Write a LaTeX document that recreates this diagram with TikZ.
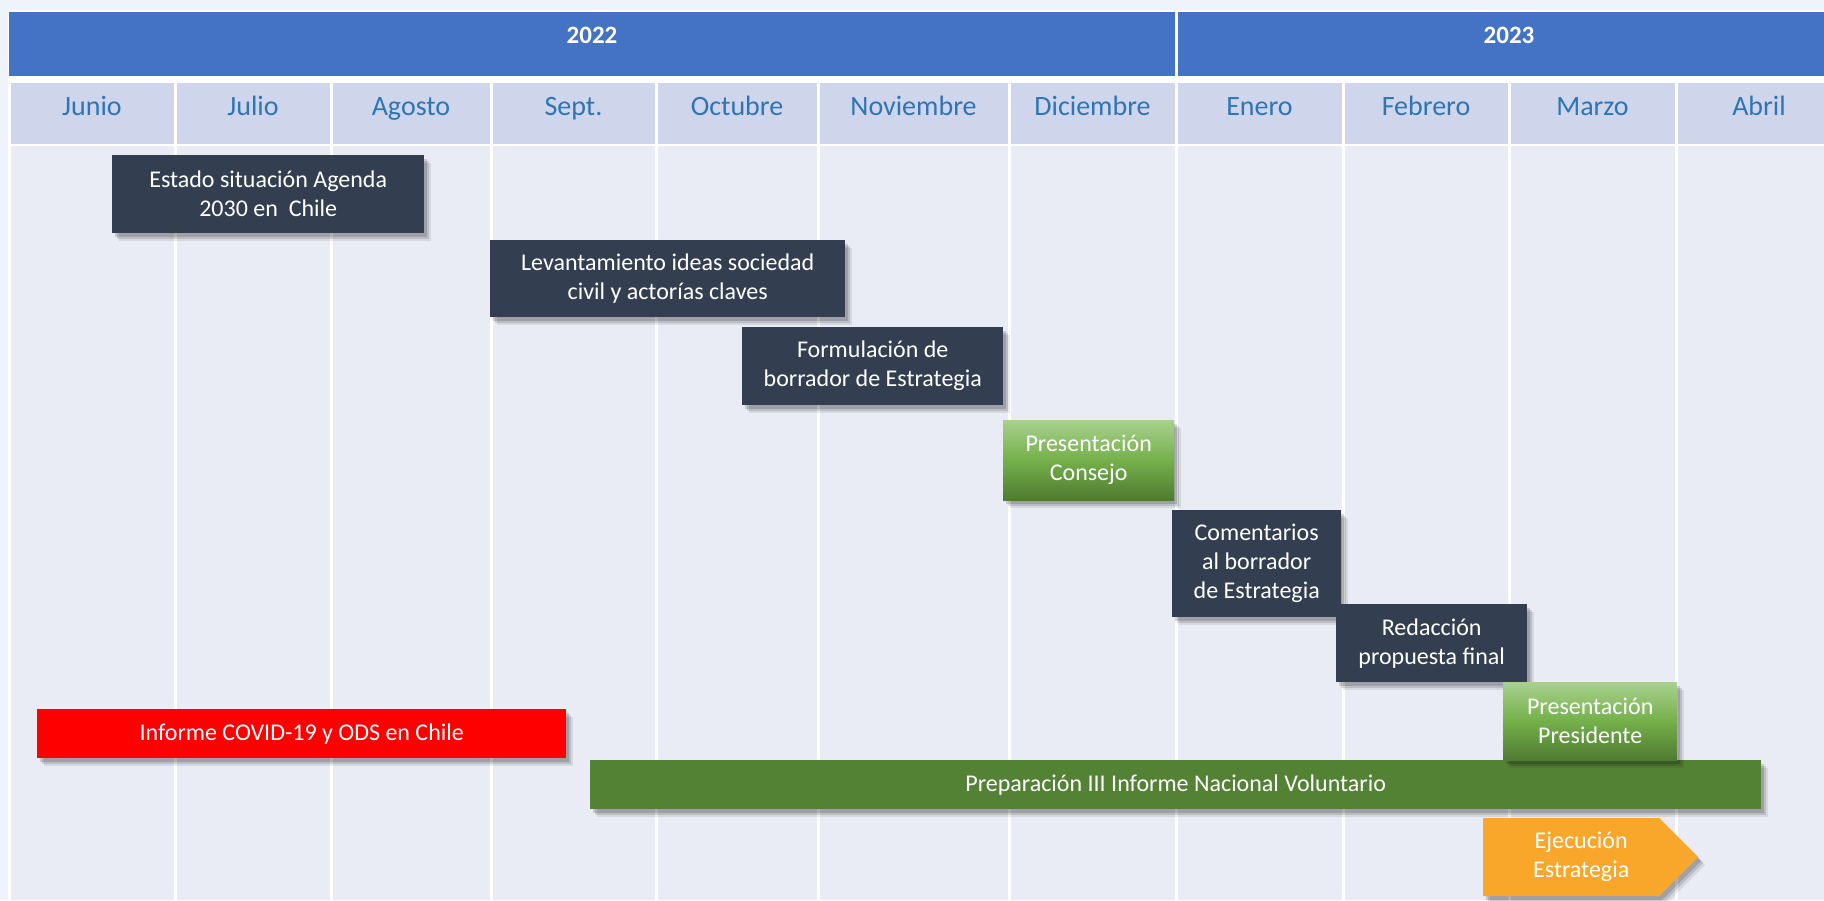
\documentclass[tikz,border=0pt]{standalone}
\usepackage{fontspec}
\setmainfont{Carlito}
\usetikzlibrary{shadows,shapes.symbols}

\definecolor{pagebg}{HTML}{EFF3FB}
\definecolor{yearblue}{HTML}{4472C4}
\definecolor{monthfill}{HTML}{CFD5EA}
\definecolor{bodyfill}{HTML}{E9EBF5}
\definecolor{monthtext}{HTML}{2E75B6}
\definecolor{slate}{HTML}{333F50}
\definecolor{leafgreen}{HTML}{548235}
\definecolor{lightgreen}{HTML}{A9D18E}
\definecolor{midgreen}{HTML}{74B04A}
\definecolor{darkgreen}{HTML}{4F7B31}
\definecolor{orangeexec}{HTML}{F9A72B}

\begin{document}
\begin{tikzpicture}[x=1pt,y=-1pt,
    tasktext/.style={text=white,align=center,font=\fontsize{24}{29}\selectfont},
    task/.style={anchor=north west,inner sep=0pt,tasktext,
      drop shadow={shadow xshift=7pt,shadow yshift=-8pt,opacity=.08,fill=black},
      drop shadow={shadow xshift=5pt,shadow yshift=-6pt,opacity=.12,fill=black},
      drop shadow={shadow xshift=3pt,shadow yshift=-4pt,opacity=.15,fill=black}},
    dark/.style={task,fill=slate},
    glossy/.style={task,top color=lightgreen,bottom color=darkgreen,middle color=midgreen},
    month/.style={anchor=base,text=monthtext,font=\fontsize{28}{30}\selectfont},
    year/.style={anchor=base,text=white,font=\fontsize{25}{28}\selectfont\bfseries}]
  \useasboundingbox (0,0) rectangle (1824,900);
  \clip (0,0) rectangle (1824,900);
  \fill[pagebg] (0,0) rectangle (1824,900);
  \fill[white] (8,10) rectangle (1824,900);
  % years
  \fill[yearblue] (9,12) rectangle (1174.5,76);
  \fill[yearblue] (1177.5,12) rectangle (1824,76);
  \node[year] (y2022) at (592,43) {2022};
  \node[year] (y2023) at (1509,43) {2023};
  % months and columns
  \foreach \l/\r/\name [count=\i] in {9/175/Junio,175/331/Julio,331/491/Agosto,
      491/656/Sept.,656/818/Octubre,818/1009/Noviembre,1009/1176/Diciembre,
      1176/1343/Enero,1343/1509/Febrero,1509/1676/Marzo,1676/1842/Abril}{
    \fill[monthfill] (\l+1.5,83) rectangle (\r-1.5,144);
    \fill[bodyfill] (\l+1.5,146) rectangle (\r-1.5,900);
    \node[month] (m\i) at ({(\l+\r)/2},115) {\name};
  }
  % tasks
  \node[task,fill=red,minimum width=529pt,minimum height=49pt] (covid) at (37,709)
    {Informe COVID-19 y ODS en Chile};
  \node[task,fill=leafgreen,minimum width=1171pt,minimum height=49pt] (prep) at (590,760)
    {Preparación III Informe Nacional Voluntario};
  \node[dark,minimum width=312pt,minimum height=78pt] (estado) at (112,155)
    {Estado situación Agenda\\2030 en\ \ Chile};
  \node[dark,minimum width=355pt,minimum height=77pt] (levant) at (490,240)
    {Levantamiento ideas sociedad\\civil y actorías claves};
  \node[dark,minimum width=261pt,minimum height=78pt] (formul) at (742,327)
    {Formulación de\\borrador de Estrategia};
  \node[glossy,minimum width=171pt,minimum height=80pt] (consejo) at (1003,420)
    {Presentación\\Consejo};
  \node[dark,minimum width=169pt,minimum height=107pt] (coment) at (1172,510)
    {Comentarios\\al borrador\\de Estrategia};
  \node[dark,minimum width=191pt,minimum height=78pt] (redacc) at (1336,604)
    {Redacción\\propuesta final};
  \node[glossy,minimum width=174pt,minimum height=78pt] (presid) at (1503,682)
    {Presentación\\Presidente};
  \node[task,shape=signal,signal to=east,signal pointer angle=90,fill=orangeexec,
    minimum width=215pt,minimum height=78pt,anchor=west,
    label={[tasktext,xshift=10pt]center:Ejecución\\Estrategia}] (ejec) at (1483,857) {};
\end{tikzpicture}
\end{document}
